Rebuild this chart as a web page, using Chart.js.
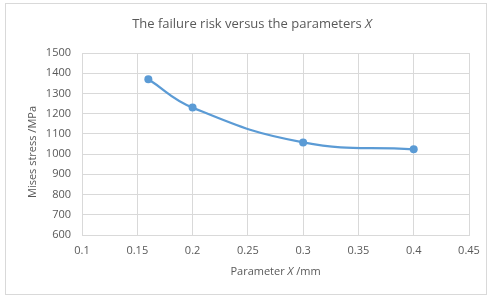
<!DOCTYPE html>
<html>
<head>
<meta charset="utf-8">
<script src="https://cdn.jsdelivr.net/npm/chart.js@4/dist/chart.umd.min.js"></script>
<style>
    html, body { margin: 0; padding: 0; background: #fff; }
    #wrap { width: 492px; height: 297px; }
</style>
</head>
<body>
<div id="wrap"><canvas id="riskChart" width="492" height="297"></canvas></div>
<script>
// values
const paramX = [0.16, 0.2, 0.3, 0.4];
const misesStress = [1370, 1230, 1058, 1024];
const xMin = 0.1, xMax = 0.45, xStep = 0.05;
const yMin = 600, yMax = 1500, yStep = 100;

const titleParts = [['The failure risk versus the parameters ', false], ['X', true]];
const xTitleParts = [['Parameter ', false], ['X', true], [' /mm', false]];
const yTitleText = 'Mises stress /MPa';

const fontName = '"Open Sans", "Noto Sans", sans-serif';
const textGray = '#595959';
const gridGray = '#d9d9d9';

function drawParts(ctx, parts, cx, cy, size) {
    let total = 0;
    parts.forEach(p => {
        ctx.font = (p[1] ? 'italic ' : '') + size + 'px ' + fontName;
        total += ctx.measureText(p[0]).width;
    });
    let x = cx - total / 2;
    parts.forEach(p => {
        ctx.font = (p[1] ? 'italic ' : '') + size + 'px ' + fontName;
        ctx.fillText(p[0], x, cy);
        x += ctx.measureText(p[0]).width;
    });
}

const frameAndTitles = {
    id: 'frameAndTitles',
    beforeDraw(chart) {
        const ctx = chart.ctx;
        ctx.save();
        ctx.fillStyle = '#fff';
        ctx.fillRect(0, 0, chart.width, chart.height);
        ctx.strokeStyle = gridGray;
        ctx.lineWidth = 1;
        ctx.strokeRect(5.5, 3.5, 481, 291);
        ctx.restore();
    },
    afterDraw(chart) {
        const ctx = chart.ctx;
        const area = chart.chartArea;
        ctx.save();
        ctx.fillStyle = textGray;
        ctx.textAlign = 'left';
        ctx.textBaseline = 'middle';
        drawParts(ctx, titleParts, 252, 24, 13);
        drawParts(ctx, xTitleParts, (area.left + area.right) / 2, 272, 11);
        ctx.translate(33, 152);
        ctx.rotate(-Math.PI / 2);
        drawParts(ctx, [[yTitleText, false]], 0, 0, 11);
        ctx.restore();
    }
};

const chartData = {
    datasets: [{
        label: 'Mises stress',
        data: paramX.map((x, i) => ({ x: x, y: misesStress[i] })),
        borderColor: '#5b9bd5',
        backgroundColor: '#5b9bd5',
        borderWidth: 2.25,
        pointRadius: 4,
        pointBorderWidth: 0,
        tension: 0.45,
        fill: false
    }]
};

const chartConfig = {
    type: 'scatter',
    data: chartData,
    options: {
        responsive: false,
        animation: false,
        showLine: true,
        layout: { padding: { left: 5, right: 23, top: 53, bottom: 10 } },
        plugins: {
            legend: { display: false },
            title: { display: false },
            tooltip: { enabled: false }
        },
        scales: {
            x: {
                type: 'linear',
                min: xMin,
                max: xMax,
                border: { color: gridGray },
                grid: { color: gridGray, drawTicks: false },
                ticks: {
                    stepSize: xStep,
                    padding: 9,
                    color: textGray,
                    font: { family: fontName, size: 11 },
                    callback: v => String(+v.toFixed(2))
                },
                afterFit: s => { s.height = 52; }
            },
            y: {
                min: yMin,
                max: yMax,
                border: { color: gridGray },
                grid: { color: gridGray, drawTicks: false },
                ticks: {
                    stepSize: yStep,
                    padding: 11,
                    color: textGray,
                    font: { family: fontName, size: 11 },
                    callback: v => String(v)
                },
                afterFit: s => { s.width = 77; }
            }
        }
    },
    plugins: [frameAndTitles]
};

new Chart(document.getElementById('riskChart'), chartConfig);
</script>
</body>
</html>
